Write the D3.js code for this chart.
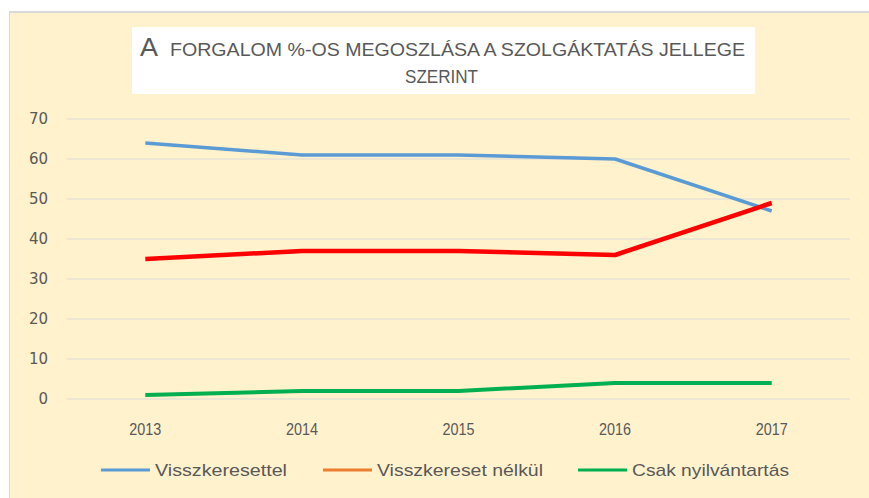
<!DOCTYPE html>
<html>
<head>
<meta charset="utf-8">
<script src="https://cdn.jsdelivr.net/npm/d3@7"></script>
<style>
  body { margin: 0; background: #fff; }
  svg { display: block; }
</style>
</head>
<body>
<div id="chart"></div>
<script>
const years = ["2013", "2014", "2015", "2016", "2017"];
const visszkeresettel = [64, 61, 61, 60, 47];
const visszkeresetNelkul = [35, 37, 37, 36, 49];
const csakNyilvantartas = [1, 2, 2, 4, 4];
const yTicks = [0, 10, 20, 30, 40, 50, 60, 70];

const CONSTANTS = {
    WIDTH: 869,
    HEIGHT: 498,
    LEFT: 67,
    RIGHT: 850,
    TOP: 119,
    BOTTOM: 399,
    TEXT: "#595959",
    FONT: "Liberation Sans",
}

const series = [
    { name: "Visszkeresettel", values: visszkeresettel, line: "#5B9BD5", legend: "#5B9BD5", width: 3.5 },
    { name: "Visszkereset nélkül", values: visszkeresetNelkul, line: "#FF0000", legend: "#ED7D31", width: 4.5 },
    { name: "Csak nyilvántartás", values: csakNyilvantartas, line: "#00B050", legend: "#00B050", width: 4 },
];

const svg = d3.select("#chart")
    .append("svg")
    .attr("width", CONSTANTS.WIDTH)
    .attr("height", CONSTANTS.HEIGHT);

// chart area + border
svg.append("rect")
    .attr("x", 9).attr("y", 11)
    .attr("width", CONSTANTS.WIDTH - 9).attr("height", CONSTANTS.HEIGHT - 11)
    .attr("fill", "#FFF2CC");
svg.append("line").attr("x1", 9).attr("x2", CONSTANTS.WIDTH).attr("y1", 12).attr("y2", 12)
    .attr("stroke", "#D9D9D9").attr("stroke-width", 2);
svg.append("line").attr("x1", 9.5).attr("x2", 9.5).attr("y1", 11).attr("y2", CONSTANTS.HEIGHT)
    .attr("stroke", "#D9D9D9").attr("stroke-width", 1);

// title box
svg.append("rect")
    .attr("x", 132).attr("y", 27).attr("width", 623).attr("height", 67)
    .attr("fill", "#fff");

const titleG = svg.append("g")
    .attr("font-family", CONSTANTS.FONT)
    .attr("fill", CONSTANTS.TEXT);
titleG.append("text")
    .attr("x", 140).attr("y", 56)
    .attr("font-size", 25)
    .attr("textLength", 18).attr("lengthAdjust", "spacingAndGlyphs")
    .text("A");
titleG.append("text")
    .attr("x", 170).attr("y", 56)
    .attr("font-size", 19)
    .attr("textLength", 575).attr("lengthAdjust", "spacingAndGlyphs")
    .text("FORGALOM %-OS MEGOSZLÁSA  A SZOLGÁKTATÁS JELLEGE");
titleG.append("text")
    .attr("x", 405).attr("y", 83)
    .attr("font-size", 19)
    .attr("textLength", 73).attr("lengthAdjust", "spacingAndGlyphs")
    .text("SZERINT");

const x = d3.scaleBand().domain(years).range([CONSTANTS.LEFT, CONSTANTS.RIGHT]);
const y = d3.scaleLinear().domain([0, 70]).range([CONSTANTS.BOTTOM, CONSTANTS.TOP]);

// gridlines
svg.append("g")
    .selectAll("line")
    .data(yTicks)
    .join("line")
    .attr("x1", CONSTANTS.LEFT).attr("x2", CONSTANTS.RIGHT)
    .attr("y1", d => y(d)).attr("y2", d => y(d))
    .attr("stroke", "#D9D9D9").attr("stroke-width", 1.2);

// y labels
svg.append("g")
    .attr("font-family", "DejaVu Sans")
    .attr("font-size", 15)
    .attr("fill", CONSTANTS.TEXT)
    .attr("text-anchor", "end")
    .selectAll("text")
    .data(yTicks)
    .join("text")
    .attr("x", 48)
    .attr("y", d => y(d))
    .attr("dy", "0.35em")
    .text(d => d);

// x labels
svg.append("g")
    .attr("font-family", CONSTANTS.FONT)
    .attr("font-size", 17)
    .attr("fill", CONSTANTS.TEXT)
    .attr("text-anchor", "middle")
    .selectAll("text")
    .data(years)
    .join("text")
    .attr("x", d => x(d) + x.bandwidth() / 2)
    .attr("y", 435)
    .attr("textLength", 32).attr("lengthAdjust", "spacingAndGlyphs")
    .text(d => d);

const line = d3.line()
    .x((d, i) => x(years[i]) + x.bandwidth() / 2)
    .y(d => y(d));

svg.append("g")
    .selectAll("path")
    .data(series)
    .join("path")
    .attr("d", d => line(d.values))
    .attr("fill", "none")
    .attr("stroke", d => d.line)
    .attr("stroke-width", d => d.width)
    .attr("stroke-linejoin", "round");

// legend
const legendX = [101, 323, 578];
const legendW = [132, 166, 157];
const legend = svg.append("g")
    .selectAll("g")
    .data(series)
    .join("g")
    .attr("transform", (d, i) => `translate(${legendX[i]},470)`);
legend.append("line")
    .attr("x1", 0).attr("x2", 49)
    .attr("stroke", d => d.legend)
    .attr("stroke-width", 3);
legend.append("text")
    .attr("x", 54)
    .attr("dy", "0.35em")
    .attr("font-family", CONSTANTS.FONT)
    .attr("font-size", 17)
    .attr("fill", CONSTANTS.TEXT)
    .attr("textLength", (d, i) => legendW[i]).attr("lengthAdjust", "spacingAndGlyphs")
    .text(d => d.name);
</script>
</body>
</html>
